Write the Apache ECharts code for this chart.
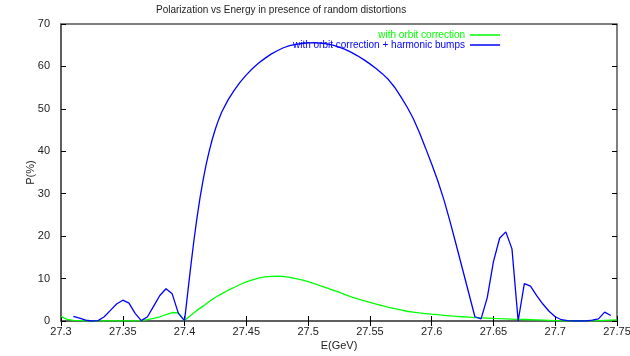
<!DOCTYPE html>
<html>
<head>
<meta charset="utf-8">
<script src="https://cdn.jsdelivr.net/npm/echarts@6/dist/echarts.min.js"></script>
<style>html,body{margin:0;padding:0;background:#fff;}#c{width:630px;height:356px;}</style>
</head>
<body>
<div id="c"></div>
<script>
const titleText = 'Polarization vs Energy in presence of random distortions';
const seriesNames = ['with orbit correction', 'with orbit correction + harmonic bumps'];
const xTicks = [27.3, 27.35, 27.4, 27.45, 27.5, 27.55, 27.6, 27.65, 27.7, 27.75];
const yTicks = [0, 10, 20, 30, 40, 50, 60, 70];

const greenE = [27.3,27.305,27.31,27.315,27.32,27.325,27.33,27.335,27.34,27.345,27.35,27.355,27.36,27.365,27.37,27.375,27.38,27.385,27.39,27.395,
27.4,27.405,27.41,27.415,27.42,27.425,27.43,27.435,27.44,27.445,27.45,27.455,27.46,27.465,27.47,27.475,27.48,27.485,27.49,27.495,
27.5,27.505,27.51,27.515,27.52,27.525,27.53,27.535,27.54,27.545,27.55,27.555,27.56,27.565,27.57,27.575,27.58,27.585,27.59,27.595,
27.6,27.605,27.61,27.615,27.62,27.625,27.63,27.635,27.64,27.645,27.65,27.655,27.66,27.665,27.67,27.675,27.68,27.685,27.69,27.695,
27.7,27.705,27.71,27.715,27.72,27.725,27.73,27.735,27.74,27.745,27.75];
const greenP = [1.1,0.4,0.15,0.1,0.05,0.05,0.05,0.05,0.05,0.05,0.05,0.05,0.05,0.1,0.3,0.6,1.0,1.5,2.0,1.9,
0.1,1.3,2.5,3.5,4.6,5.6,6.4,7.2,7.9,8.6,9.2,9.7,10.1,10.4,10.5,10.6,10.5,10.3,10.0,9.7,
9.3,8.8,8.3,7.8,7.3,6.8,6.2,5.7,5.2,4.8,4.4,4.0,3.6,3.2,2.9,2.6,2.3,2.1,1.9,1.75,
1.6,1.5,1.35,1.2,1.1,1.0,0.9,0.8,0.75,0.7,0.62,0.55,0.5,0.45,0.4,0.35,0.3,0.25,0.2,0.15,
0.1,0.05,0.05,0.05,0.05,0.05,0.05,0.1,0.15,0.2,0.25];

const blueE = [27.31,27.315,27.32,27.325,27.33,27.335,27.34,27.345,27.35,27.355,27.36,27.365,27.37,27.375,27.38,27.385,27.39,27.395,
27.4,27.4025,27.405,27.4075,27.41,27.4125,27.415,27.4175,27.42,27.4225,27.425,27.4275,27.43,27.435,27.44,27.445,27.45,27.455,27.46,27.465,27.47,27.475,27.48,27.485,27.49,27.495,
27.5,27.505,27.51,27.515,27.52,27.525,27.53,27.535,27.54,27.545,27.55,27.555,27.56,27.565,27.57,27.575,27.58,27.585,27.59,27.595,
27.6,27.605,27.61,27.615,27.62,27.625,27.63,27.635,27.64,27.645,27.65,27.655,27.66,27.665,27.67,27.675,27.68,27.685,27.69,27.695,
27.7,27.705,27.71,27.715,27.72,27.725,27.73,27.735,27.74,27.745];
const blueP = [1.1,0.7,0.2,0.0,0.1,1.0,2.5,4.0,4.9,4.2,1.8,0.1,1.0,3.5,6.0,7.6,6.4,1.8,
0.1,6.5,12.8,18.8,24.2,29.0,33.2,36.9,40.1,42.9,45.3,47.4,49.2,52.0,54.3,56.3,58.0,59.5,60.8,61.9,62.9,63.7,64.4,64.9,65.2,65.4,
65.55,65.6,65.5,65.3,65.0,64.55,64.0,63.3,62.5,61.6,60.6,59.5,58.3,56.9,55.1,52.9,50.5,47.8,44.5,40.8,
37.0,33.0,28.5,23.3,17.8,12.2,6.6,1.0,0.5,5.5,14.0,19.5,21.0,17.0,0.0,8.8,8.2,6.0,4.0,2.3,
1.0,0.3,0.1,0.0,0.0,0.0,0.2,0.5,2.1,1.3];

const zip = (a, b) => a.map((v, i) => [v, b[i]]);
const FONT = 'Liberation Sans, Arial, sans-serif';
const GREEN = '#00ff00', BLUE = '#0000ff';

const chart = echarts.init(document.getElementById('c'), null, {renderer: 'canvas'});
const xFmt = v => { const r = Math.round(v * 1000) / 1000; return xTicks.some(t => Math.abs(t - r) < 1e-6) ? String(r) : ''; };
const commonTick = {show: true, inside: true, length: 5, lineStyle: {color: '#000', width: 1}};
const legendBase = {right: 130, align: 'right', padding: 0, icon: 'rect', itemWidth: 30, itemHeight: 1.5,
  textStyle: {fontFamily: FONT, fontSize: 10}};
chart.setOption({
  animation: false,
  backgroundColor: '#fff',
  title: {text: titleText, left: 156, top: 5, padding: 0,
    textStyle: {fontFamily: FONT, fontSize: 10, fontWeight: 'normal', color: '#222'}},
  legend: [
    Object.assign({}, legendBase, {data: [{name: seriesNames[0], textStyle: {color: GREEN}}], top: 30}),
    Object.assign({}, legendBase, {data: [{name: seriesNames[1], textStyle: {color: BLUE}}], top: 40})
  ],
  grid: {left: 61, right: 13, top: 24, bottom: 35, containLabel: false, outerBoundsMode: 'none',
    show: true, borderColor: '#555', borderWidth: 1.5, backgroundColor: 'transparent'},
  xAxis: [
    {type: 'value', min: 27.3, max: 27.75, interval: 0.05, position: 'bottom',
      name: 'E(GeV)', nameLocation: 'middle', nameGap: 19, nameMoveOverlap: false,
      nameTextStyle: {fontFamily: FONT, fontSize: 11, color: '#222'},
      axisLine: {show: true, onZero: false, lineStyle: {color: '#555', width: 1.5}},
      axisTick: commonTick, splitLine: {show: false},
      axisLabel: {fontFamily: FONT, fontSize: 11, color: '#222', margin: 5, formatter: xFmt}},
    {type: 'value', min: 27.3, max: 27.75, interval: 0.05, position: 'top',
      axisLine: {show: false}, axisTick: commonTick, splitLine: {show: false}, axisLabel: {show: false}}
  ],
  yAxis: [
    {type: 'value', min: 0, max: 70, interval: 10, position: 'left',
      name: 'P(%)', nameLocation: 'middle', nameGap: 25, nameRotate: 90, nameMoveOverlap: false,
      nameTextStyle: {fontFamily: FONT, fontSize: 11, color: '#222'},
      axisLine: {show: true, lineStyle: {color: '#555', width: 1.5}},
      axisTick: commonTick, splitLine: {show: false},
      axisLabel: {fontFamily: FONT, fontSize: 11, color: '#222', margin: 11}},
    {type: 'value', min: 0, max: 70, interval: 10, position: 'right',
      axisLine: {show: false}, axisTick: commonTick, splitLine: {show: false}, axisLabel: {show: false}}
  ],
  series: [
    {name: seriesNames[0], type: 'line', data: zip(greenE, greenP), showSymbol: false, symbol: 'none',
      lineStyle: {color: GREEN, width: 1.3}, itemStyle: {color: GREEN}, clip: true, z: 2},
    {name: seriesNames[1], type: 'line', data: zip(blueE, blueP), showSymbol: false, symbol: 'none',
      lineStyle: {color: BLUE, width: 1.3}, itemStyle: {color: BLUE}, clip: true, z: 3}
  ]
});
</script>
</body>
</html>
